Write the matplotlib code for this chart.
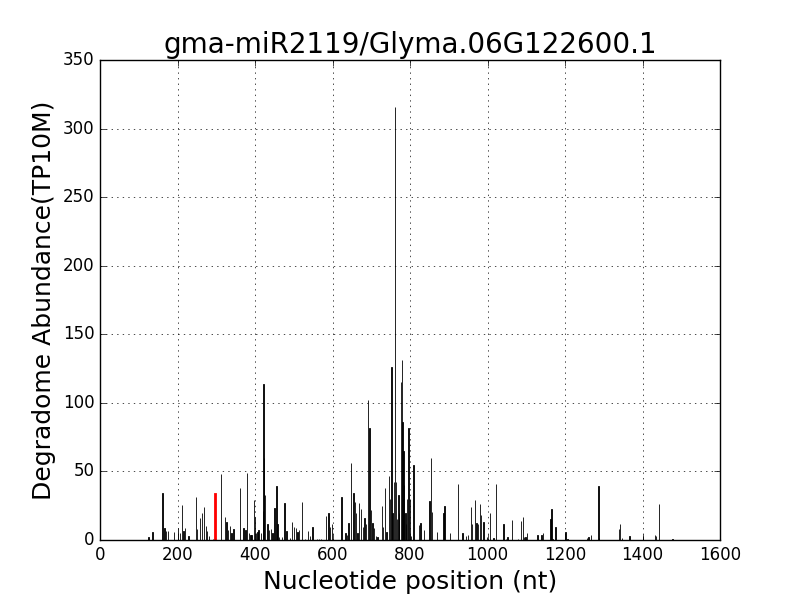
import matplotlib
matplotlib.use("Agg")
import matplotlib.pyplot as plt

# Degradome tags along the transcript (position in nt, abundance in TP10M)
positions = [
    125, 135, 161, 166, 170, 175, 191, 202, 207, 211, 215, 220, 228, 248, 251,
    258, 264, 269, 273, 276, 281, 291, 312, 323, 326, 331, 336, 339, 345, 361,
    370, 375, 380, 384, 388, 391, 397, 400, 403, 406, 409, 416, 420, 422, 424,
    426, 432, 436, 441, 445, 450, 455, 458, 462, 470, 476, 481, 490, 496, 501,
    506, 510, 514, 522, 529, 537, 542, 548, 560, 565, 570, 584, 590, 594, 599,
    623, 634, 637, 641, 648, 654, 658, 661, 665, 668, 673, 678, 683, 687, 691,
    695, 699, 703, 707, 712, 716, 727, 731, 736, 739, 746, 748, 752, 755, 758,
    761, 764, 767, 770, 772, 776, 779, 781, 783, 785, 788, 790, 793, 796, 800,
    803, 809, 823, 827, 836, 850, 854, 857, 869, 886, 889, 903, 924, 935, 945,
    950, 957, 960, 968, 972, 975, 981, 984, 990, 998, 1006, 1015, 1022, 1041,
    1048, 1052, 1064, 1078, 1087, 1092, 1094, 1098, 1102, 1129, 1139, 1144,
    1163, 1165, 1168, 1175, 1201, 1206, 1256, 1261, 1267, 1286, 1288, 1340,
    1342, 1347, 1366, 1402, 1432, 1435, 1443, 1477,
]
abundance = [
    2.4, 5.6, 34, 8.5, 6.5, 6.5, 5.6, 9, 5, 25.5, 6.5, 8.5, 3, 31, 8,
    16, 19.5, 24, 10, 6.5, 3, 1, 48, 17, 13, 7, 10, 5, 8, 38,
    8.5, 7.3, 49, 5, 3.6, 3.6, 29, 17, 5, 6, 7, 5, 21, 114, 60,
    33, 11.4, 7, 8, 5, 23.6, 39.7, 12, 2, 2, 26.8, 6.5, 1.5, 13, 9.7,
    8.5, 6, 7, 28, 1, 6.5, 3, 9.7, 1, 1, 1, 17.8, 20, 9.7, 11.4,
    31.6, 5.3, 4, 12.6, 56, 34.5, 28, 19.5, 5, 27, 22.6, 9.7, 15.8, 12, 102,
    82, 22, 12.6, 8.5, 3, 2, 25, 9.7, 38, 6, 47, 30, 126, 20, 42,
    316, 42, 15, 33, 20, 115, 131, 86, 65, 40, 20, 12, 30, 82, 30,
    3, 55, 11, 12.6, 7.6, 28.4, 59.5, 20.7, 6, 19.4, 25, 5, 40.6, 5.3, 3,
    4, 24, 12, 29, 12.6, 11.6, 26, 18, 13, 2, 19.4, 1.5, 40.6, 11.4,
    1, 2, 14.4, 1, 13.6, 16.5, 2, 2.5, 5, 4, 4, 5,
    15, 22.4, 1, 9.7, 5.6, 0.5, 1.2, 2, 3.6, 39.4, 1.7, 7.8,
    11.4, 1.2, 3, 3, 4, 3, 26, 1,
]

# miRNA cleavage site
site_pos = [298]
site_val = [33.5]

title = "gma-miR2119/Glyma.06G122600.1"

plt.style.use("classic")
fig, ax = plt.subplots(figsize=(8, 6), dpi=100)
fig.patch.set_facecolor("white")

ax.bar(positions, abundance, width=1, color="black", edgecolor="black",
       linewidth=0.6, align="center")
ax.bar(site_pos, site_val, width=1, color="red", edgecolor="red",
       linewidth=1.3, align="center")

ax.set_xlim(0, 1600)
ax.set_ylim(0, 350)
ax.set_title(title, fontsize=20)
ax.set_xlabel("Nucleotide position (nt)", fontsize=18)
ax.set_ylabel("Degradome Abundance(TP10M)", fontsize=18)
ax.grid(True)

fig.savefig("out.png", dpi=100, facecolor="white")
